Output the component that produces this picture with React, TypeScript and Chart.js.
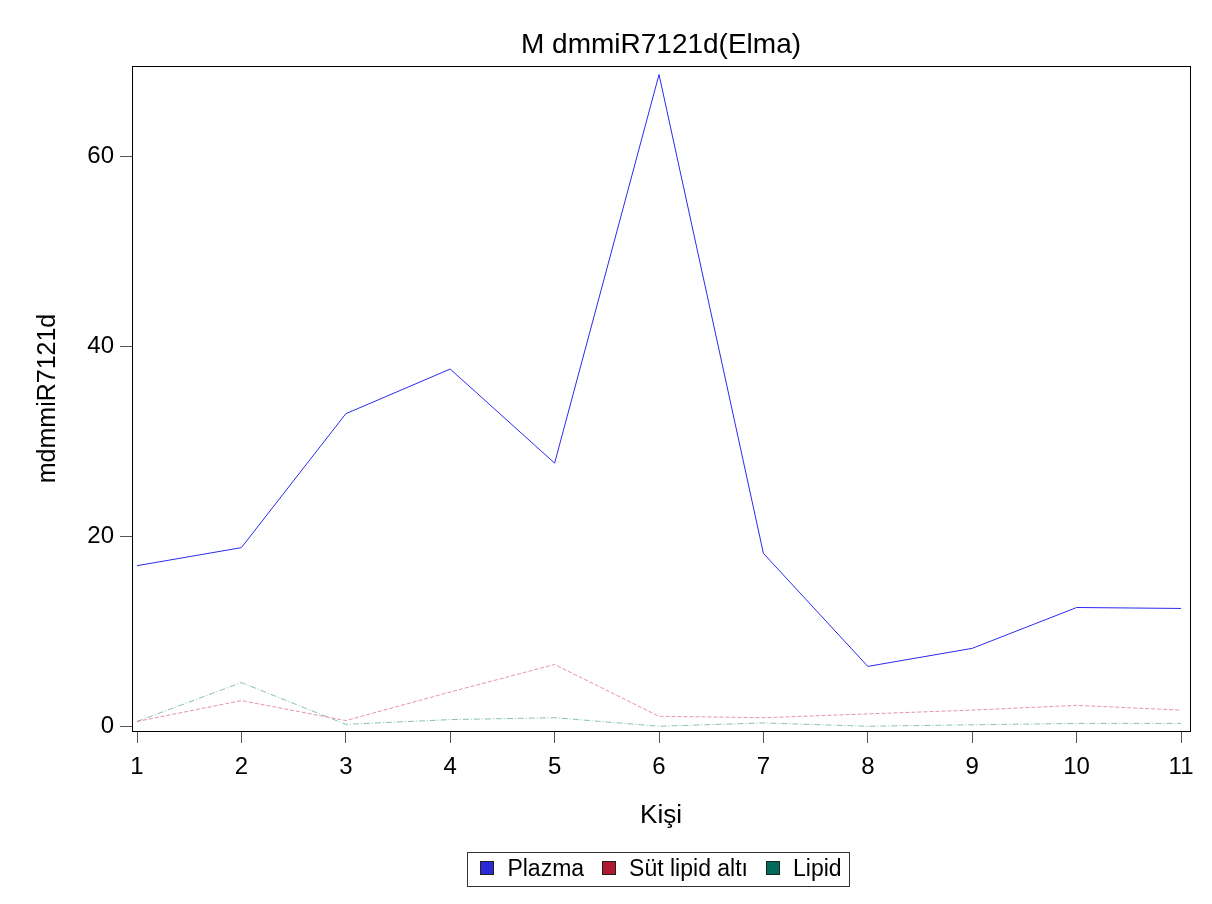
import React, { useEffect, useRef } from "react";
import { Chart, registerables } from "chart.js";

Chart.register(...registerables);

const persons = [1, 2, 3, 4, 5, 6, 7, 8, 9, 10, 11];
const plazma = [16.9, 18.8, 32.9, 37.6, 27.7, 68.6, 18.2, 6.3, 8.2, 12.5, 12.4];
const sutLipidAlti = [0.5, 2.7, 0.6, 3.6, 6.5, 1.05, 0.9, 1.3, 1.7, 2.2, 1.7];
const lipid = [0.5, 4.6, 0.2, 0.7, 0.9, 0.0, 0.35, 0.0, 0.15, 0.3, 0.3];
const yTicks = [0, 20, 40, 60];
const seriesNames = ["Plazma", "Süt lipid altı", "Lipid"];
const legendColors = ["#2a2ad8", "#b01a30", "#006b5b"];
const titleText = "M dmmiR7121d(Elma)";
const xTitle = "Kişi";
const yTitle = "mdmmiR7121d";

const FONT = "'Liberation Sans', Arial, sans-serif";

const decor = {
  id: "decor",
  afterDraw(chart: any) {
    const { ctx, chartArea } = chart;
    const cx = (chartArea.left + chartArea.right) / 2;
    ctx.save();
    // plot frame
    ctx.strokeStyle = "#000";
    ctx.lineWidth = 1;
    ctx.strokeRect(
      Math.round(chartArea.left) + 0.5,
      Math.round(chartArea.top) + 0.5,
      Math.round(chartArea.right - chartArea.left),
      Math.round(chartArea.bottom - chartArea.top)
    );
    // title
    ctx.fillStyle = "#000";
    ctx.font = `28px ${FONT}`;
    ctx.textAlign = "center";
    ctx.textBaseline = "alphabetic";
    ctx.fillText(titleText, cx, 53);
    // legend
    ctx.font = `23px ${FONT}`;
    const sw = 14;
    const gapText = 13;
    const gapItem = 18;
    const widths = seriesNames.map((s) => ctx.measureText(s).width);
    let total = 0;
    widths.forEach((w, i) => {
      total += sw + gapText + w + (i < widths.length - 1 ? gapItem : 0);
    });
    const boxL = Math.round(cx - total / 2 - 13);
    const boxR = Math.round(cx + total / 2 + 7);
    const boxT = 852;
    const boxB = 886;
    ctx.strokeStyle = "#333";
    ctx.strokeRect(boxL + 0.5, boxT + 0.5, boxR - boxL, boxB - boxT);
    let x = cx - total / 2;
    ctx.textAlign = "left";
    ctx.textBaseline = "middle";
    seriesNames.forEach((s, i) => {
      ctx.fillStyle = legendColors[i];
      ctx.fillRect(Math.round(x), 861, sw, sw);
      ctx.strokeStyle = "#222";
      ctx.strokeRect(Math.round(x) + 0.5, 861.5, sw - 1, sw - 1);
      ctx.fillStyle = "#000";
      ctx.fillText(s, x + sw + gapText, 870);
      x += sw + gapText + widths[i] + gapItem;
    });
    ctx.restore();
  },
};

export default function App() {
  const ref = useRef<HTMLCanvasElement | null>(null);
  useEffect(() => {
    if (!ref.current) return;
    const mk = (arr: number[]) => persons.map((p, i) => ({ x: p, y: arr[i] }));
    const chart = new Chart(ref.current, {
      type: "line",
      data: {
        datasets: [
          {
            label: seriesNames[0],
            data: mk(plazma),
            borderColor: "#2a2aee",
            borderWidth: 1,
            pointRadius: 0,
            tension: 0,
          },
          {
            label: seriesNames[1],
            data: mk(sutLipidAlti),
            borderColor: "rgba(215,90,120,0.65)",
            borderWidth: 1,
            borderDash: [4, 2],
            pointRadius: 0,
            tension: 0,
          },
          {
            label: seriesNames[2],
            data: mk(lipid),
            borderColor: "rgba(40,140,125,0.55)",
            borderWidth: 1,
            borderDash: [6, 2, 1, 2],
            pointRadius: 0,
            tension: 0,
          },
        ],
      },
      options: {
        animation: false,
        responsive: false,
        layout: { padding: { left: 0, right: 22, top: 66, bottom: 65 } },
        plugins: {
          title: { display: false },
          legend: { display: false },
          tooltip: { enabled: false },
        },
        scales: {
          x: {
            type: "linear",
            min: 0.952,
            max: 11.086,
            afterBuildTicks: (s: any) => {
              s.ticks = persons.map((v) => ({ value: v }));
            },
            afterFit: (s: any) => {
              s.height = 108;
            },
            grid: { display: true, drawOnChartArea: false, drawTicks: true, tickLength: 12, color: "#555" },
            border: { display: true, color: "#000" },
            ticks: { color: "#000", font: { family: FONT, size: 24 }, padding: 10, maxRotation: 0, autoSkip: false },
            title: { display: true, text: xTitle, color: "#000", font: { family: FONT, size: 26 }, padding: { top: 0, bottom: 8 } },
          },
          y: {
            type: "linear",
            min: -0.5,
            max: 69.5,
            afterBuildTicks: (s: any) => {
              s.ticks = yTicks.map((v) => ({ value: v }));
            },
            afterFit: (s: any) => {
              s.width = 132;
            },
            grid: { display: true, drawOnChartArea: false, drawTicks: true, tickLength: 12, color: "#555" },
            border: { display: true, color: "#000" },
            ticks: { color: "#000", font: { family: FONT, size: 24 }, padding: 6 },
            title: { display: true, text: yTitle, color: "#000", font: { family: FONT, size: 25 }, padding: { top: 33, bottom: 0 } },
          },
        },
      },
      plugins: [decor],
    } as any);
    return () => chart.destroy();
  }, []);
  return (
    <div style={{ position: "absolute", left: 0, top: 0, width: 1212, height: 904, background: "#fff" }}>
      <canvas ref={ref} width={1212} height={904} style={{ display: "block" }} />
    </div>
  );
}
